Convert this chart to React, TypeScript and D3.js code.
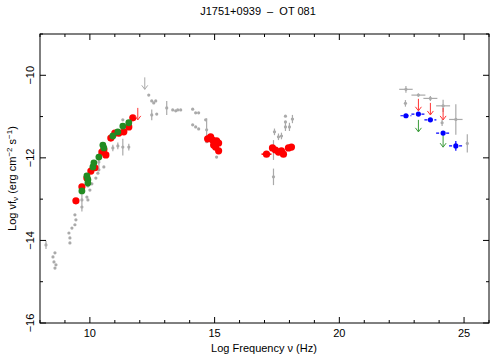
import React from "react";
import * as d3 from "d3";

// [log nu, log nuFnu, yErr, xErr]
const grayPoints: number[][] = [
  [8.24, -14.11, 0.1, 0], [8.52, -14.4, 0, 0], [8.6, -14.3, 0, 0], [8.56, -14.52, 0, 0],
  [8.64, -14.59, 0, 0], [8.6, -14.67, 0, 0], [9.16, -13.82, 0, 0], [9.2, -13.94, 0, 0],
  [9.2, -14.06, 0, 0], [9.28, -13.7, 0, 0], [9.4, -13.38, 0, 0], [9.44, -13.5, 0, 0],
  [9.4, -13.62, 0, 0], [9.68, -13.02, 0.28, 0], [9.68, -13.19, 0, 0], [9.88, -12.95, 0, 0],
  [9.92, -13.02, 0, 0], [9.92, -12.68, 0, 0], [10.08, -12.63, 0, 0], [10.0, -12.78, 0, 0],
  [10.24, -12.49, 0, 0], [10.32, -12.37, 0, 0], [10.36, -12.29, 0, 0], [10.56, -12.22, 0, 0],
  [10.36, -12.1, 0.22, 0], [10.92, -11.76, 0.08, 0], [11.12, -11.71, 0.08, 0],
  [11.32, -11.74, 0.2, 0], [11.56, -11.74, 0.08, 0], [11.32, -11.08, 0, 0],
  [12.36, -10.48, 0, 0], [12.48, -10.62, 0, 0], [12.56, -10.67, 0, 0], [12.64, -10.62, 0, 0],
  [12.48, -10.96, 0.13, 0], [12.68, -10.94, 0, 0], [13.08, -10.79, 0.17, 0],
  [13.32, -10.84, 0, 0], [13.44, -10.86, 0, 0], [13.52, -10.84, 0, 0], [13.64, -10.84, 0, 0],
  [14.12, -10.82, 0, 0], [14.24, -10.91, 0, 0], [14.36, -10.91, 0, 0],
  [14.12, -11.2, 0, 0], [14.24, -11.25, 0, 0], [14.36, -11.3, 0, 0],
  [14.64, -11.08, 0, 0], [14.68, -11.32, 0.28, 0], [14.68, -11.61, 0, 0], [15.08, -11.98, 0, 0],
  [17.28, -11.76, 0, 0], [17.36, -11.81, 0.24, 0], [17.4, -11.37, 0.08, 0.06],
  [17.56, -11.49, 0.08, 0.06], [17.68, -11.47, 0.08, 0.06], [17.84, -11.25, 0.1, 0],
  [17.84, -11.13, 0, 0], [17.84, -10.99, 0, 0], [18.0, -11.25, 0.1, 0], [18.12, -11.06, 0.1, 0.06],
  [17.36, -12.46, 0.2, 0],
  [22.67, -10.34, 0.08, 0.27], [22.65, -10.68, 0.08, 0], [23.17, -10.48, 0.04, 0.28],
  [23.65, -10.56, 0.06, 0.28], [24.16, -10.74, 0.15, 0.28], [24.12, -11.15, 0.08, 0],
  [24.67, -11.07, 0.37, 0.27], [25.13, -11.65, 0.22, 0],
];

const grayLimits: number[][] = [[12.2, -10.05]];

const redPoints: number[][] = [
  [9.44, -13.04, 0], [9.68, -12.7, 0], [9.88, -12.49, 0], [10.04, -12.32, 0], [10.2, -12.24, 0],
  [10.48, -11.86, 0], [10.64, -11.93, 0], [10.56, -11.8, 0], [10.84, -11.52, 0], [11.0, -11.4, 0],
  [11.16, -11.4, 0], [11.36, -11.37, 0], [11.56, -11.25, 0], [11.72, -11.03, 0],
  [14.72, -11.54, 0], [14.84, -11.49, 0], [14.92, -11.57, 0], [15.08, -11.59, 0],
  [15.16, -11.64, 0], [15.04, -11.74, 0], [15.16, -11.83, 0], [14.96, -11.69, 0],
  [17.08, -11.91, 0.2], [17.32, -11.76, 0], [17.44, -11.81, 0], [17.56, -11.86, 0],
  [17.68, -11.83, 0], [17.76, -11.91, 0], [17.96, -11.76, 0], [18.08, -11.74, 0],
];

const redLimits: number[][] = [[11.92, -10.79], [23.17, -10.57], [23.65, -10.67], [24.16, -10.79]];

const greenPoints: number[][] = [
  [9.68, -12.8], [9.88, -12.44], [9.92, -12.53], [9.92, -12.61], [10.12, -12.22],
  [10.16, -12.12], [10.36, -11.98], [10.52, -11.69], [10.56, -11.76], [10.92, -11.47],
  [11.12, -11.37], [11.32, -11.23], [11.56, -11.15],
];

const greenLimits: number[][] = [[23.17, -11.08], [24.16, -11.45]];

// [log nu, log nuFnu, yErr, xErr]
const bluePoints: number[][] = [
  [22.67, -10.98, 0.03, 0.22], [23.17, -10.94, 0.03, 0.28], [23.65, -11.08, 0.04, 0.24],
  [24.16, -11.4, 0.04, 0.28], [24.67, -11.71, 0.12, 0.27],
];

const xMajor = [10, 15, 20, 25];
const yMajor = [-16, -14, -12, -10];

const W = 490;
const H = 354;
const left = 40, right = 489, top = 34, bottom = 323;
const font = "'Liberation Sans', Arial, Helvetica, sans-serif";
const GRAY = "#aaaaaa";

function Arrow({ x, y, color }: { x: number; y: number; color: string }) {
  return (
    <g stroke={color} fill="none" strokeWidth={1}>
      <line x1={x} y1={y} x2={x} y2={y + 12} />
      <path d={`M${x - 3},${y + 8} L${x},${y + 12} L${x + 3},${y + 8}`} />
    </g>
  );
}

export default function App() {
  const x = d3.scaleLinear().domain([8, 26]).range([left, right]);
  const y = d3.scaleLinear().domain([-16, -9]).range([bottom, top]);
  const minus = (v: number) => (v < 0 ? "\u2212" + Math.abs(v) : String(v));
  const xMinor = x.ticks(18);
  const yMinor = y.ticks(7);
  const nb = "\u00a0";

  return (
    <svg width={W} height={H} style={{ position: "absolute", left: 0, top: 0, background: "#fff" }}
      fontFamily={font}>
      <text x={258} y={15} fontSize={11} textAnchor="middle">{`J1751+0939${nb}${nb}\u2013${nb}${nb}OT 081`}</text>

      {/* gray archival data */}
      <g stroke={GRAY} fill={GRAY}>
        {grayPoints.map((d, i) => (
          <g key={i}>
            {d[2] > 0 && <line x1={x(d[0])} x2={x(d[0])} y1={y(d[1] - d[2])} y2={y(d[1] + d[2])} strokeWidth={1.2} />}
            {d[3] > 0 && <line x1={x(d[0] - d[3])} x2={x(d[0] + d[3])} y1={y(d[1])} y2={y(d[1])} strokeWidth={1.2} />}
            <circle cx={x(d[0])} cy={y(d[1])} r={1.6} stroke="none" />
          </g>
        ))}
        {grayLimits.map((d, i) => <Arrow key={i} x={x(d[0])} y={y(d[1])} color={GRAY} />)}
      </g>

      {/* red */}
      <g fill="#ff0000" stroke="#ff0000">
        {redPoints.map((d, i) => (
          <g key={i}>
            {d[2] > 0 && <line x1={x(d[0] - d[2])} x2={x(d[0] + d[2])} y1={y(d[1])} y2={y(d[1])} strokeWidth={1.5} />}
            <circle cx={x(d[0])} cy={y(d[1])} r={3.6} stroke="none" />
          </g>
        ))}
      </g>
      {redLimits.map((d, i) => <Arrow key={i} x={x(d[0])} y={y(d[1])} color="#ff3333" />)}

      {/* green */}
      <g fill="#228b22">
        {greenPoints.map((d, i) => <circle key={i} cx={x(d[0])} cy={y(d[1])} r={3.4} />)}
      </g>
      {greenLimits.map((d, i) => <Arrow key={i} x={x(d[0])} y={y(d[1])} color="#3a9a3a" />)}

      {/* blue */}
      <g stroke="#0000ff" fill="#0000ff">
        {bluePoints.map((d, i) => (
          <g key={i}>
            <line x1={x(d[0] - d[3])} x2={x(d[0] + d[3])} y1={y(d[1])} y2={y(d[1])} strokeWidth={1.2} strokeDasharray="3,2" />
            <line x1={x(d[0])} x2={x(d[0])} y1={y(d[1] - d[2])} y2={y(d[1] + d[2])} strokeWidth={1.2} />
            <circle cx={x(d[0])} cy={y(d[1])} r={2.6} stroke="none" />
          </g>
        ))}
      </g>

      {/* frame and ticks */}
      <rect x={left} y={top} width={right - left} height={bottom - top} fill="none" stroke="#000" strokeWidth={1} />
      <g stroke="#000" strokeWidth={1}>
        {xMinor.map((t) => {
          const len = xMajor.includes(t) ? 6 : 3;
          return (
            <g key={"x" + t}>
              <line x1={x(t)} x2={x(t)} y1={bottom} y2={bottom - len} />
              <line x1={x(t)} x2={x(t)} y1={top} y2={top + len} />
            </g>
          );
        })}
        {yMinor.map((t) => {
          const len = yMajor.includes(t) ? 6 : 3;
          return (
            <g key={"y" + t}>
              <line x1={left} x2={left + len} y1={y(t)} y2={y(t)} />
              <line x1={right} x2={right - len} y1={y(t)} y2={y(t)} />
            </g>
          );
        })}
      </g>
      <g fontSize={11} fill="#000">
        {xMajor.map((t) => (
          <text key={t} x={x(t)} y={337} textAnchor="middle">{t}</text>
        ))}
        {yMajor.map((t) => (
          <text key={t} transform={`translate(34,${y(t)}) rotate(-90)`} textAnchor="middle">{minus(t)}</text>
        ))}
      </g>
      <text x={264} y={352} fontSize={11} textAnchor="middle">Log Frequency {"\u03bd"} (Hz)</text>
      <text transform={`translate(16,${(top + bottom) / 2}) rotate(-90)`} fontSize={11} textAnchor="middle">
        Log {"\u03bd"}f<tspan fontSize={8} dy={2}>{"\u03bd"}</tspan>
        <tspan dy={-2}> (erg cm</tspan><tspan fontSize={8} dy={-4}>{"\u2212"}2</tspan>
        <tspan dy={4}> s</tspan><tspan fontSize={8} dy={-4}>{"\u2212"}1</tspan>
        <tspan dy={4}>)</tspan>
      </text>
    </svg>
  );
}
